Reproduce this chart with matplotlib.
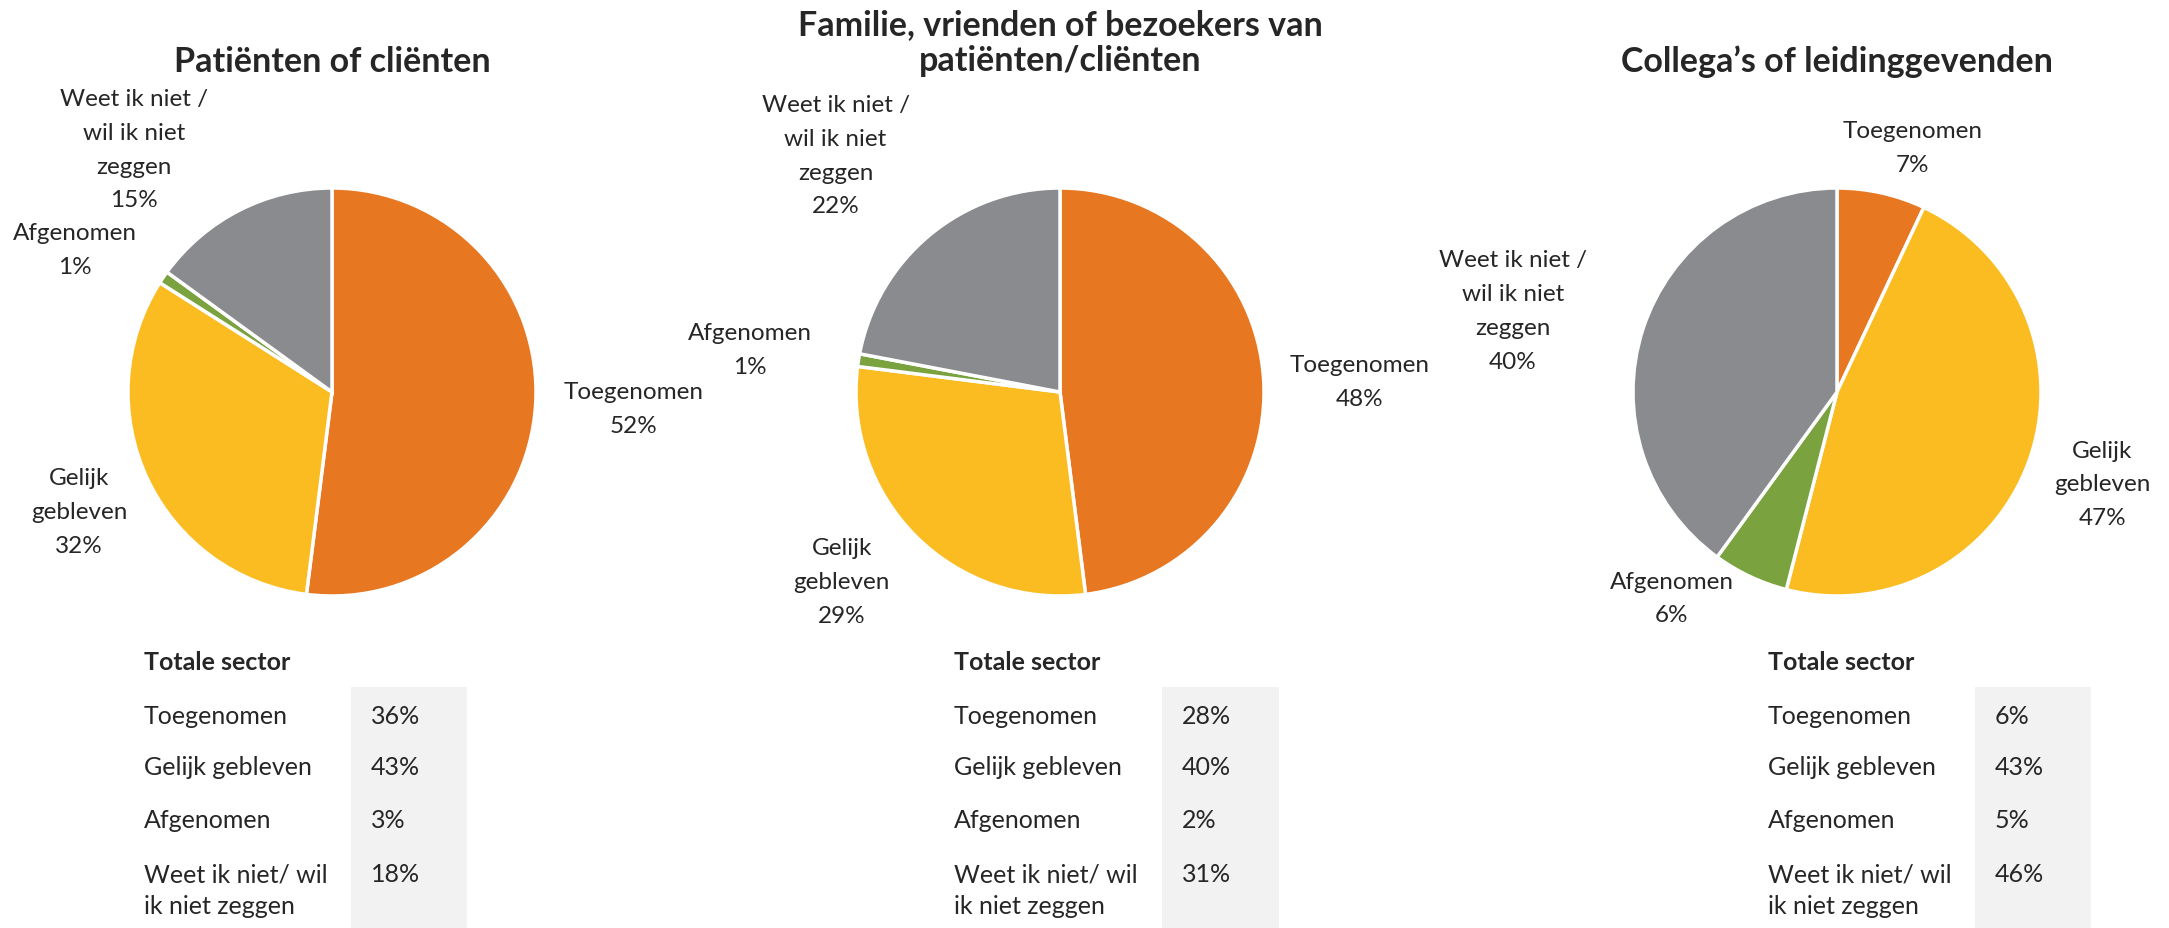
import matplotlib
matplotlib.use("Agg")
import matplotlib.pyplot as plt
from matplotlib.patches import Rectangle

# ---------------- data ----------------
titles = ["Patiënten of cliënten",
          "Familie, vrienden of bezoekers van\npatiënten/cliënten",
          "Collega’s of leidinggevenden"]
pie_labels = ["Toegenomen", "Gelijk\ngebleven", "Afgenomen", "Weet ik niet /\nwil ik niet\nzeggen"]
patienten = [52, 32, 1, 15]
familie = [48, 29, 1, 22]
collegas = [7, 47, 6, 40]

table_title = "Totale sector"
table_labels = ["Toegenomen", "Gelijk gebleven", "Afgenomen", "Weet ik niet/ wil\nik niet zeggen"]
sector_patienten = [36, 43, 3, 18]
sector_familie = [28, 40, 2, 31]
sector_collegas = [6, 43, 5, 46]

# ---------------- style ----------------
colors = ["#E87722", "#FBBC22", "#7AA23F", "#898B8E"]
text_color = "#262626"
font = "Lato"
W, H = 2169, 929

# label offsets (in units of pie radius) per pie/slice
label_offsets = [
    [(1.48, -0.08), (-1.24, -0.585), (-1.26, 0.70), (-0.97, 1.19)],
    [(1.47, 0.05), (-1.07, -0.93), (-1.52, 0.21), (-1.10, 1.16)],
    [(0.37, 1.20), (1.30, -0.45), (-0.81, -1.01), (-1.59, 0.40)],
]
centers_x = [332, 1060, 1837]
center_y = H - 393
radius = 204
title_y = [H - 62, H - 43, H - 62]
table_x = [144, 954, 1768]
box_x = [(351, 467), (1162, 1279), (1975, 2091)]
row_y = [716, 768, 821, 875]

fig = plt.figure(figsize=(W / 100, H / 100), dpi=100)
ax = fig.add_axes([0, 0, 1, 1])

series = [patienten, familie, collegas]
sectors = [sector_patienten, sector_familie, sector_collegas]

for i, vals in enumerate(series):
    cx = centers_x[i]
    ax.pie(vals, center=(cx, center_y), radius=radius, startangle=90,
           counterclock=False, colors=colors,
           wedgeprops=dict(edgecolor="white", linewidth=2.5))
    for j, v in enumerate(vals):
        dx, dy = label_offsets[i][j]
        ax.text(cx + dx * radius, center_y + dy * radius, f"{pie_labels[j]}\n{v}%",
                ha="center", va="center", fontsize=17.5, family=font,
                color=text_color, linespacing=1.75)
    ax.text(cx, title_y[i], titles[i], ha="center", va="center", fontsize=24.5,
            fontweight="bold", family=font, color=text_color, linespacing=1.13)

    # table
    tx = table_x[i]
    bx0, bx1 = box_x[i]
    ax.add_patch(Rectangle((bx0, 0), bx1 - bx0, H - 687.5, facecolor="#F2F2F2",
                           edgecolor="none", zorder=0))
    ax.text(tx, H - 663, table_title, ha="left", va="center", fontsize=18,
            fontweight="bold", family=font, color=text_color)
    for k, lab in enumerate(table_labels):
        for n, line in enumerate(lab.split("\n")):
            ax.text(tx, H - row_y[k] - 32 * n, line, ha="left", va="center",
                    fontsize=18, family=font, color=text_color)
        ax.text(bx0 + 20, H - row_y[k], f"{sectors[i][k]}%", ha="left", va="center",
                fontsize=18, family=font, color=text_color)

ax.set_xlim(0, W)
ax.set_ylim(0, H)
ax.set_aspect("equal")
ax.axis("off")

fig.savefig("out.png", dpi=100)
